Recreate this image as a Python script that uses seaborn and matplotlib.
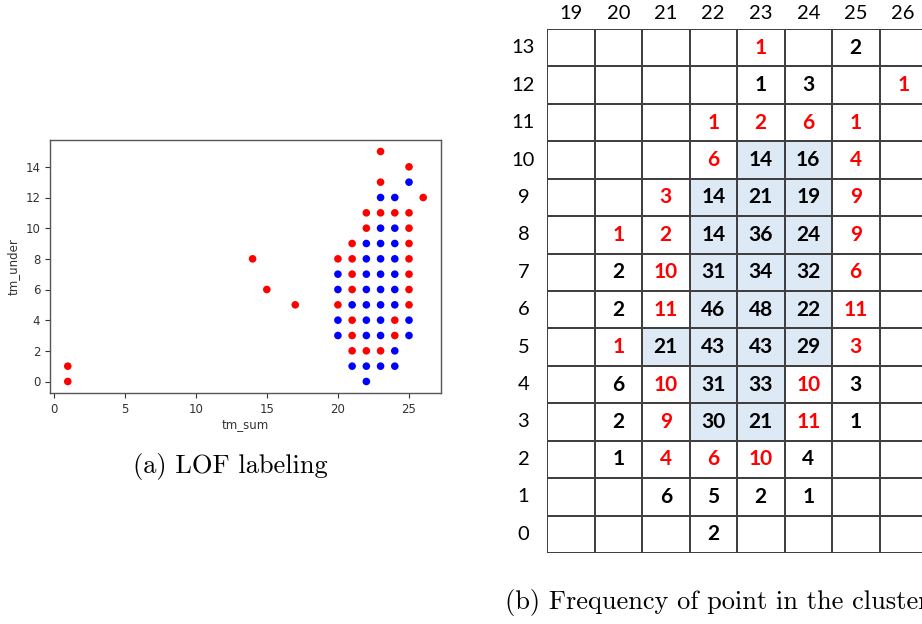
import numpy as np
import pandas as pd
import matplotlib
matplotlib.use("Agg")
import matplotlib.pyplot as plt
import seaborn as sns
from matplotlib.colors import ListedColormap

# ---------------- data: (a) LOF labeling scatter ----------------
outlier_x = [1, 1, 14, 15, 17,
             20, 20,
             21, 21, 21, 21, 21, 21, 21,
             22, 22, 22,
             23, 23, 23, 23,
             24, 24, 24,
             25, 25, 25, 25, 25, 25, 25, 25,
             26]
outlier_y = [0, 1, 8, 6, 5,
             8, 5,
             9, 8, 7, 6, 4, 3, 2,
             11, 10, 2,
             15, 13, 11, 2,
             11, 4, 3,
             14, 11, 10, 9, 8, 7, 6, 5,
             12]
inlier_x = [20, 20, 20, 20,
            21, 21,
            22, 22, 22, 22, 22, 22, 22, 22, 22,
            23, 23, 23, 23, 23, 23, 23, 23, 23, 23,
            24, 24, 24, 24, 24, 24, 24, 24, 24,
            25, 25, 25]
inlier_y = [7, 6, 4, 3,
            5, 1,
            9, 8, 7, 6, 5, 4, 3, 1, 0,
            12, 10, 9, 8, 7, 6, 5, 4, 3, 1,
            12, 10, 9, 8, 7, 6, 5, 2, 1,
            13, 4, 3]

# ---------------- data: (b) frequency table ----------------
col_labels = [19, 20, 21, 22, 23, 24, 25, 26]
row_labels = [13, 12, 11, 10, 9, 8, 7, 6, 5, 4, 3, 2, 1, 0]
counts = [
    [0, 0, 0, 0, 1, 0, 2, 0],
    [0, 0, 0, 0, 1, 3, 0, 1],
    [0, 0, 0, 1, 2, 6, 1, 0],
    [0, 0, 0, 6, 14, 16, 4, 0],
    [0, 0, 3, 14, 21, 19, 9, 0],
    [0, 1, 2, 14, 36, 24, 9, 0],
    [0, 2, 10, 31, 34, 32, 6, 0],
    [0, 2, 11, 46, 48, 22, 11, 0],
    [0, 1, 21, 43, 43, 29, 3, 0],
    [0, 6, 10, 31, 33, 10, 3, 0],
    [0, 2, 9, 30, 21, 11, 1, 0],
    [0, 1, 4, 6, 10, 4, 0, 0],
    [0, 0, 6, 5, 2, 1, 0, 0],
    [0, 0, 0, 2, 0, 0, 0, 0],
]
is_red = [
    [0, 0, 0, 0, 1, 0, 0, 0],
    [0, 0, 0, 0, 0, 0, 0, 1],
    [0, 0, 0, 1, 1, 1, 1, 0],
    [0, 0, 0, 1, 0, 0, 1, 0],
    [0, 0, 1, 0, 0, 0, 1, 0],
    [0, 1, 1, 0, 0, 0, 1, 0],
    [0, 0, 1, 0, 0, 0, 1, 0],
    [0, 0, 1, 0, 0, 0, 1, 0],
    [0, 1, 0, 0, 0, 0, 1, 0],
    [0, 0, 1, 0, 0, 1, 0, 0],
    [0, 0, 1, 0, 0, 1, 0, 0],
    [0, 0, 1, 1, 1, 0, 0, 0],
    [0, 0, 0, 0, 0, 0, 0, 0],
    [0, 0, 0, 0, 0, 0, 0, 0],
]
is_core = [
    [0, 0, 0, 0, 0, 0, 0, 0],
    [0, 0, 0, 0, 0, 0, 0, 0],
    [0, 0, 0, 0, 0, 0, 0, 0],
    [0, 0, 0, 0, 1, 1, 0, 0],
    [0, 0, 0, 1, 1, 1, 0, 0],
    [0, 0, 0, 1, 1, 1, 0, 0],
    [0, 0, 0, 1, 1, 1, 0, 0],
    [0, 0, 0, 1, 1, 1, 0, 0],
    [0, 0, 1, 1, 1, 1, 0, 0],
    [0, 0, 0, 1, 1, 0, 0, 0],
    [0, 0, 0, 1, 1, 0, 0, 0],
    [0, 0, 0, 0, 0, 0, 0, 0],
    [0, 0, 0, 0, 0, 0, 0, 0],
    [0, 0, 0, 0, 0, 0, 0, 0],
]

W, H = 922, 624
fig = plt.figure(figsize=(W / 100, H / 100), dpi=100)

# ---------------- (a) scatter ----------------
df = pd.DataFrame({
    "tm_sum": outlier_x + inlier_x,
    "tm_under": outlier_y + inlier_y,
    "lof": ["outlier"] * len(outlier_x) + ["inlier"] * len(inlier_x),
})
ax1 = fig.add_axes([50 / W, 1 - 393 / H, 391 / W, 253 / H])
sns.scatterplot(data=df, x="tm_sum", y="tm_under", hue="lof",
                palette={"outlier": "#ff0000", "inlier": "#0000ff"},
                s=30, linewidth=0, legend=False, ax=ax1)
ax1.set_xlim(-0.25, 27.25)
ax1.set_ylim(-0.75, 15.75)
ax1.set_xticks([0, 5, 10, 15, 20, 25])
ax1.set_yticks([0, 2, 4, 6, 8, 10, 12, 14])
ax1.tick_params(labelsize=8.5, colors="#333333", length=3.5, width=0.8)
for sp in ax1.spines.values():
    sp.set_color("#555555")
    sp.set_linewidth(1.0)
ax1.set_xlabel("tm_sum", fontsize=8.5, color="#333333", labelpad=2)
ax1.set_ylabel("tm_under", fontsize=8.5, color="#333333", labelpad=4)

fig.text(230 / W, 1 - 466 / H, "(a) LOF labeling", ha="center", va="center",
         family="cmr10", fontsize=19)

# ---------------- (b) table as heatmap ----------------
core_df = pd.DataFrame(is_core, index=row_labels, columns=col_labels)
annot = np.array([[str(v) if v else "" for v in row] for row in counts])
ax2 = fig.add_axes([547 / W, 1 - 553 / H, 380 / W, 524 / H])
sns.heatmap(core_df, ax=ax2, cmap=ListedColormap(["white", "#dde9f5"]),
            vmin=0, vmax=1, cbar=False, linewidths=1.3, linecolor="#404040",
            annot=annot, fmt="",
            annot_kws=dict(fontsize=15, fontweight="bold", family="Lato"))
for t in ax2.texts:
    x, y = t.get_position()
    j, i = int(x), int(y)
    t.set_color("#ff0000" if is_red[i][j] else "#000000")

ax2.xaxis.tick_top()
ax2.set_xlabel("")
ax2.set_ylabel("")
ax2.set_xticklabels([str(c) for c in col_labels], rotation=0,
                    family="Lato", fontsize=14.5)
ax2.set_yticklabels([str(r) for r in row_labels], rotation=0,
                    family="Lato", fontsize=14.5, ha="center")
ax2.tick_params(axis="x", length=0, pad=5)
ax2.tick_params(axis="y", length=0, pad=17)

fig.text(505 / W, 1 - 603 / H, "(b) Frequency of point in the cluster",
         ha="left", va="center", family="cmr10", fontsize=19)

fig.savefig("out.png", dpi=100)
